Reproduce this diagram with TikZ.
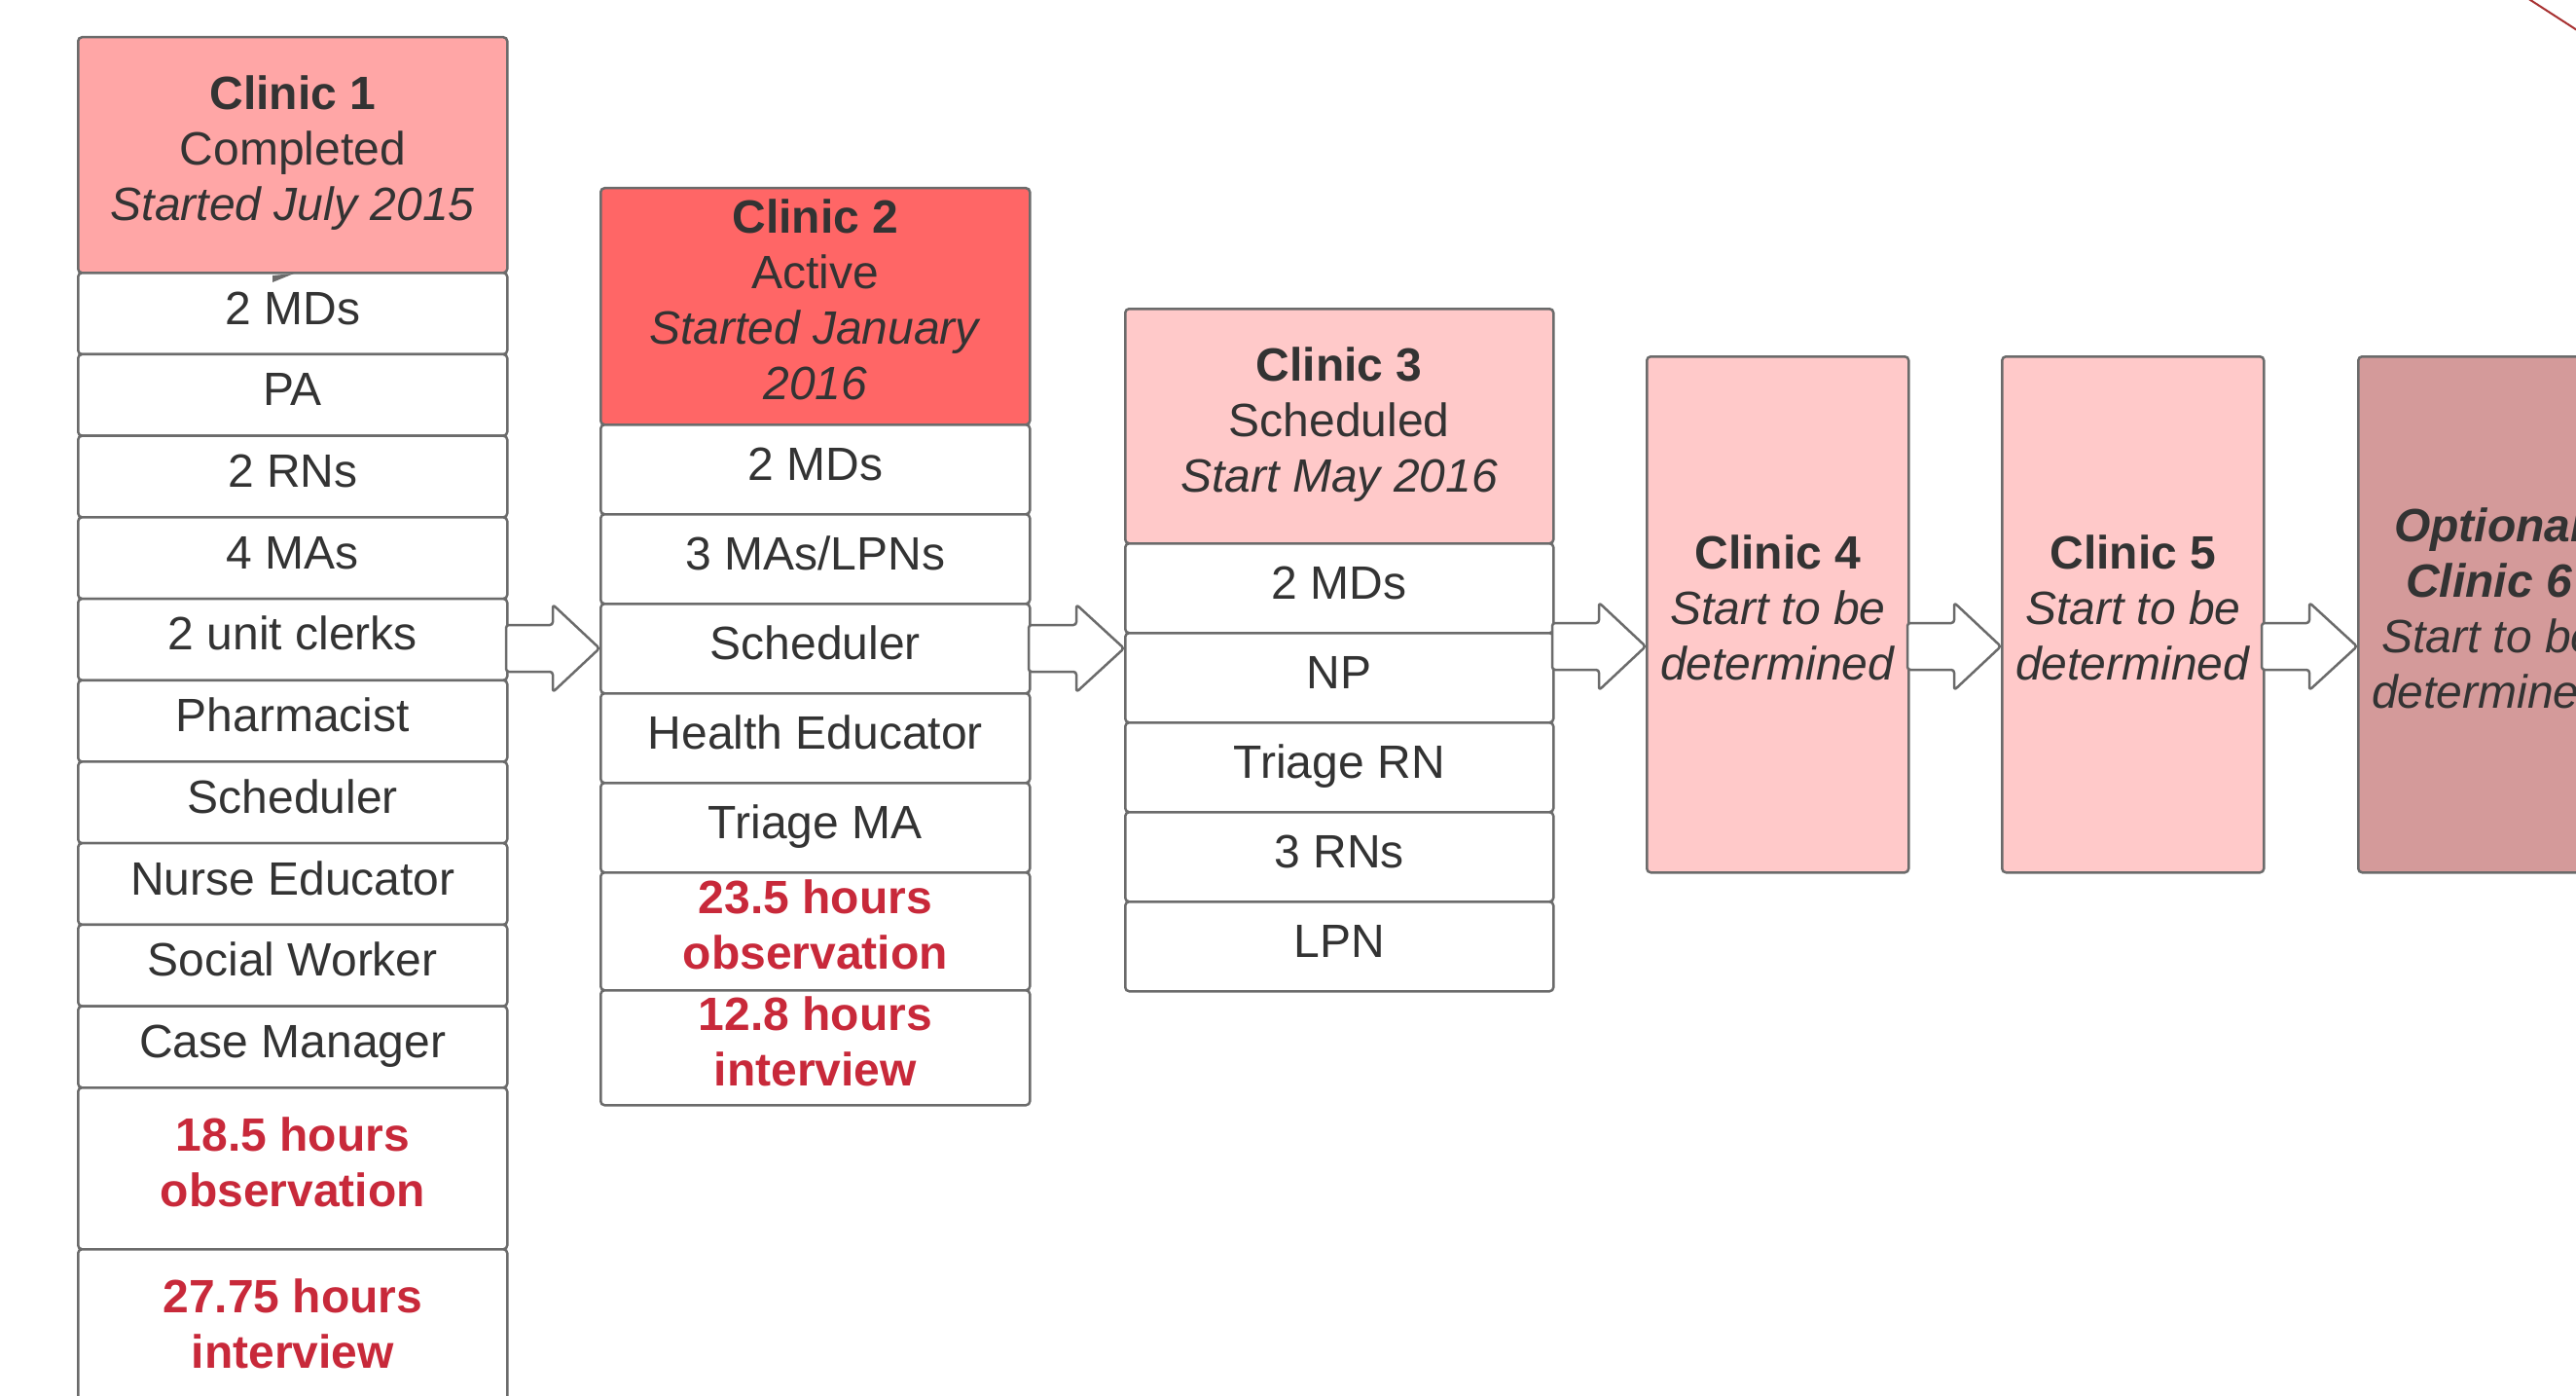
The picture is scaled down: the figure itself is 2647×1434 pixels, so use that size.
\documentclass[tikz,border=0pt]{standalone}
\usepackage{fontspec}
\setmainfont{Liberation Sans}
\definecolor{txt}{HTML}{333333}
\definecolor{edge}{HTML}{6B6B6B}
\definecolor{redtxt}{HTML}{C8293A}
\definecolor{cafill}{HTML}{FFA6A6}
\definecolor{cbfill}{HTML}{FF6666}
\definecolor{ccfill}{HTML}{FFC9C9}
\definecolor{cffill}{HTML}{D49A9A}
\definecolor{redline}{HTML}{A83232}
\newcommand\fstrut{\rule[-14pt]{0pt}{50pt}}
\tikzset{
 box/.style={draw=edge, line width=2.5pt, rounded corners=4pt, anchor=north west, align=center, inner sep=0pt, text=txt, font=\fontsize{48}{57}\selectfont, execute at begin node=\fstrut, execute at end node=\fstrut},
 cell/.style={box, fill=white},
 hours/.style={box, fill=white, text=redtxt, font=\fontsize{48}{57}\selectfont\bfseries},
 arr/.style={draw=edge, fill=white, line width=2.5pt, rounded corners=3pt, line join=round},
}
\newcommand\blockarrow[3]{%
 \draw[arr] (#1,#3-24) -- ({(#1+#2)/2},#3-24) -- ({(#1+#2)/2},#3-45) -- (#2,#3) -- ({(#1+#2)/2},#3+45) -- ({(#1+#2)/2},#3+24) -- (#1,#3+24) -- cycle;}
\begin{document}
\begin{tikzpicture}[x=1pt,y=-1pt]
\useasboundingbox (0,0) rectangle (2647,1434);
\fill[white] (0,0) rectangle (2647,1434);

% Clinic 1
\node[box, fill=cafill, minimum width=441, minimum height=242] (ca) at (79,37) {\textbf{Clinic 1}\\Completed\\\textit{Started July 2015}};
\foreach \t [count=\i from 0] in {2 MDs,PA,2 RNs,4 MAs,2 unit clerks,Pharmacist,Scheduler,Nurse Educator,Social Worker,Case Manager}
  \node[cell, minimum width=441, minimum height=83.7] (car\i) at (79,279+\i*83.7) {\t};
\node[hours, minimum width=441, minimum height=166] (caobs) at (79,1116) {18.5 hours\\observation};
\node[hours, minimum width=441, minimum height=166] (caint) at (79,1282) {27.75 hours\\interview};
\fill[edge] (280,283) -- (302,281) -- (280,290) -- cycle;

% Clinic 2
\node[box, fill=cbfill, minimum width=441, minimum height=243] (cb) at (616,192) {\textbf{Clinic 2}\\Active\\\textit{Started January}\\\textit{2016}};
\foreach \t [count=\i from 0] in {2 MDs,3 MAs/LPNs,Scheduler,Health Educator,Triage MA}
  \node[cell, minimum width=441, minimum height=92] (cbr\i) at (616,435+\i*92) {\t};
\node[hours, minimum width=441, minimum height=121] (cbobs) at (616,895) {23.5 hours\\observation};
\node[hours, minimum width=441, minimum height=118] (cbint) at (616,1016) {12.8 hours\\interview};

% Clinic 3
\node[box, fill=ccfill, minimum width=440, minimum height=241] (cc) at (1155,316) {\textbf{Clinic 3}\\Scheduled\\\textit{Start May 2016}};
\foreach \t [count=\i from 0] in {2 MDs,NP,Triage RN,3 RNs,LPN}
  \node[cell, minimum width=440, minimum height=92] (ccr\i) at (1155,557+\i*92) {\t};

% Clinic 4, 5, 6
\node[box, fill=ccfill, minimum width=269, minimum height=530] (cd) at (1691,365) {\textbf{Clinic 4}\\\textit{Start to be}\\\textit{determined}};
\node[box, fill=ccfill, minimum width=269, minimum height=530] (ce) at (2056,365) {\textbf{Clinic 5}\\\textit{Start to be}\\\textit{determined}};
\node[box, fill=cffill, minimum width=269, minimum height=530] (cf) at (2422,365) {\textbf{\textit{Optional}}\\\textbf{\textit{Clinic 6}}\\\textit{Start to be}\\\textit{determined}};

% arrows
\blockarrow{520}{616}{666}
\blockarrow{1057}{1155}{666}
\blockarrow{1595}{1691}{664}
\blockarrow{1960}{2056}{664}
\blockarrow{2324}{2422}{664}

% red line fragment
\draw[redline, line width=2pt] (2597,-2) -- (2662,40);
\end{tikzpicture}
\end{document}
